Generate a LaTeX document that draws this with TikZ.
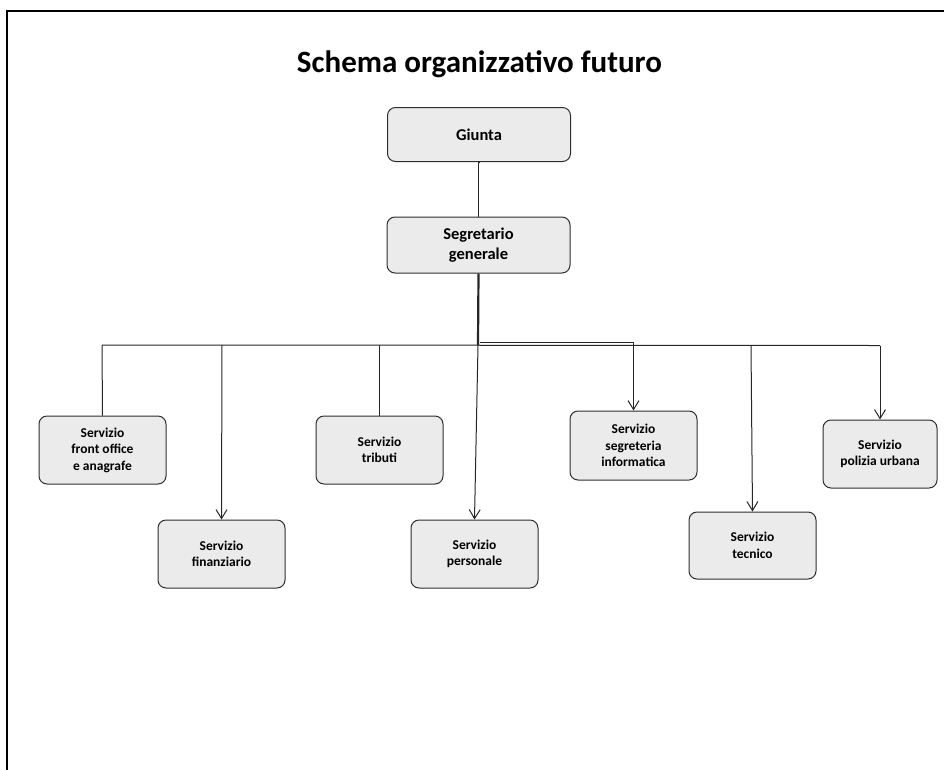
\documentclass[tikz,border=0pt]{standalone}
\usepackage{fontspec}
\setmainfont{Carlito}
\usetikzlibrary{arrows.meta}
\definecolor{boxfill}{HTML}{EBEBEB}
\definecolor{boxline}{HTML}{2E2E2E}
\tikzset{
  unitbox/.style={draw=boxline, line width=1pt, fill=boxfill, rounded corners=8pt,
    align=center, inner sep=0pt, font=\fontsize{13.5}{16.5}\selectfont\bfseries},
  topbox/.style={unitbox, font=\fontsize{16.5}{20}\selectfont\bfseries},
  link/.style={draw=black!85, line width=1pt},
  arrowlink/.style={link, -{Straight Barb[length=9pt,width=11pt,line width=1pt]}},
  frameline/.style={line width=2.6pt, line cap=rect}
}
\begin{document}
\begin{tikzpicture}[x=1pt,y=-1pt]
\useasboundingbox (0,0) rectangle (945,769);

% page frame (top and left edges)
\draw[frameline] (7,769) -- (7,11) -- (943,11);

% title
\node[anchor=base, font=\fontsize{31}{36}\selectfont\bfseries] (title) at (479.5,72) {Schema organizzativo futuro};

% upper levels
\node[topbox, minimum width=183pt, minimum height=54pt] (giunta) at (479,134.5) {Giunta};
\node[topbox, minimum width=183pt, minimum height=56pt] (segr) at (478.5,245) {Segretario\\generale};

% services
\node[unitbox, minimum width=127pt, minimum height=68pt] (front) at (102.5,450) {Servizio\\front office\\e anagrafe};
\node[unitbox, minimum width=127pt, minimum height=68pt] (fin) at (221.5,554) {Servizio\\finanziario};
\node[unitbox, minimum width=127pt, minimum height=68pt] (trib) at (379.5,450) {Servizio\\tributi};
\node[unitbox, minimum width=127pt, minimum height=68pt] (pers) at (474.5,554) {Servizio\\personale};
\node[unitbox, minimum width=127pt, minimum height=69pt] (segrinf) at (633.5,445.5) {Servizio\\segreteria\\informatica};
\node[unitbox, minimum width=127pt, minimum height=67pt] (tec) at (752.5,545.5) {Servizio\\tecnico};
\node[unitbox, minimum width=114pt, minimum height=68pt] (pol) at (880,454) {Servizio\\polizia urbana};

% bus points
\coordinate (hub) at (478,345);
\coordinate (hubb) at (480,342.5);
\coordinate (busL) at (102,345);
\coordinate (busR) at (880,345.5);
\coordinate (finT) at (222,345);
\coordinate (tecT) at (751,345.5);

% connectors
\draw[link] (giunta.south) -- (segr.south |- giunta.south) -- (segr.north);
\draw[link, line width=2.2pt] (segr.south) -- (hub);
\draw[link] (busL) -- (busR);
\draw[link] (front.north) -- (busL);
\draw[link] (trib.north) -- (trib.north |- busL);
\draw[arrowlink] (finT) -- (fin.north);
\draw[arrowlink] (hub) -- (pers.north);
\draw[arrowlink] (hubb) -| (segrinf.north);
\draw[arrowlink] (tecT) -- (tec.north);
\draw[arrowlink] (busR) -- (pol.north);
\end{tikzpicture}
\end{document}
